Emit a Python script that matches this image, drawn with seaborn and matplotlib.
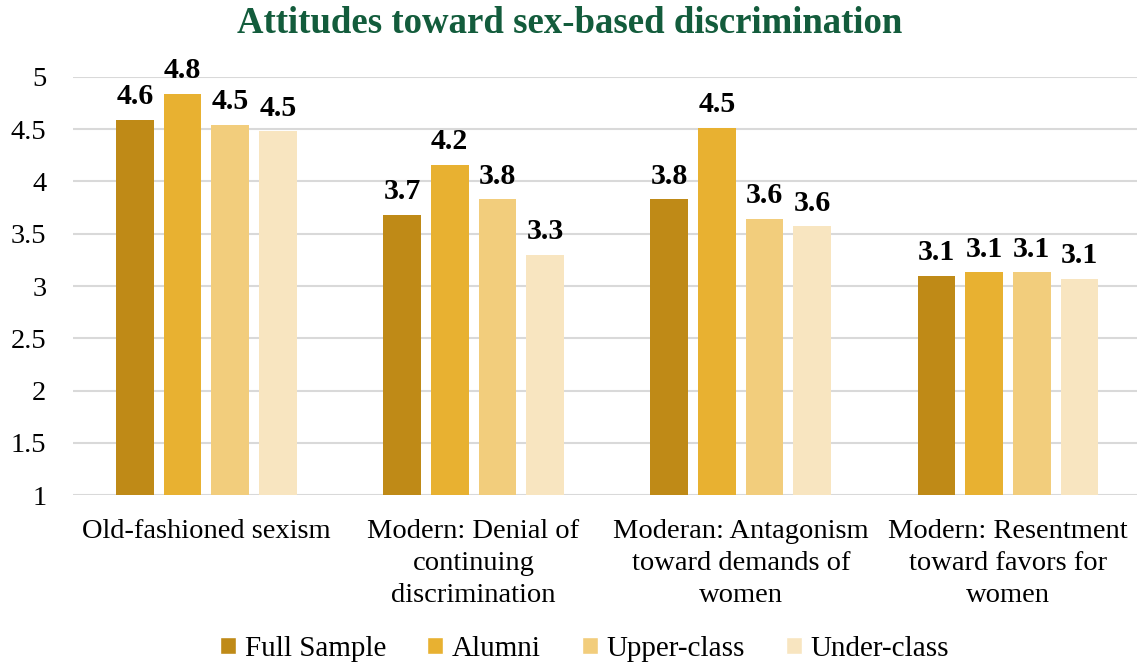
import matplotlib
matplotlib.use("Agg")
import matplotlib.pyplot as plt
import seaborn as sns
import pandas as pd
from matplotlib.patches import Patch

categories = ["Old-fashioned sexism",
              "Modern: Denial of\ncontinuing\ndiscrimination",
              "Moderan: Antagonism\ntoward demands of\nwomen",
              "Modern: Resentment\ntoward favors for\nwomen"]
series = ["Full Sample", "Alumni", "Upper-class", "Under-class"]
full_sample = [4.59, 3.68, 3.83, 3.10]
alumni = [4.84, 4.16, 4.51, 3.13]
upper_class = [4.54, 3.83, 3.64, 3.13]
under_class = [4.48, 3.30, 3.57, 3.07]
colors = ["#BF8A17", "#E8B131", "#F2CD7C", "#F8E5C0"]
yticks = [1, 1.5, 2, 2.5, 3, 3.5, 4, 4.5, 5]
ytick_labels = ["1", "1.5", "2", "2.5", "3", "3.5", "4", "4.5", "5"]

rows = []
for s, vals in zip(series, [full_sample, alumni, upper_class, under_class]):
    for c, v in zip(categories, vals):
        rows.append({"category": c, "series": s, "value": v})
df = pd.DataFrame(rows)

sns.set_theme(style="white")
plt.rcParams["font.family"] = ["Liberation Serif", "DejaVu Serif"]
plt.rcParams["text.color"] = "black"
plt.rcParams["xtick.color"] = "black"
plt.rcParams["ytick.color"] = "black"

fig = plt.figure(figsize=(11.37, 6.63), dpi=100)
ax = fig.add_axes([0.064, 0.253, 0.94, 0.631])
sns.barplot(data=df, x="category", y="value", hue="series", order=categories,
            hue_order=series, palette=colors, width=0.714, gap=0.21,
            saturation=1, ax=ax, legend=False, edgecolor="none")
ax.set_ylim(1, 5)
ax.set_yticks(yticks)
ax.set_yticklabels(ytick_labels, fontsize=20.5)
ax.yaxis.grid(True, color="#D9D9D9", linewidth=1.5)
ax.set_axisbelow(True)
for sp in ax.spines.values():
    sp.set_visible(False)
ax.tick_params(axis="x", labelsize=20.5, length=0, pad=17)
ax.tick_params(axis="y", length=0, pad=19)
for lbl in ax.get_xticklabels():
    lbl.set_linespacing(1.36)
ax.set_xlabel("")
ax.set_ylabel("")

for cont in ax.containers:
    ax.bar_label(cont, fmt="%.1f", fontsize=21.5, fontweight="bold", padding=7)

fig.text(0.501, 0.964, "Attitudes toward sex-based discrimination", fontsize=26.5,
         fontweight="bold", color="#135C3C", ha="center", va="center")

handles = [Patch(facecolor=c, label=s) for c, s in zip(colors, series)]
fig.legend(handles=handles, loc="lower center", ncol=4, frameon=False,
           fontsize=21, bbox_to_anchor=(0.514, -0.038), handlelength=0.55,
           handleheight=0.55, handletextpad=0.3, columnspacing=1.4)

fig.savefig("out.png", dpi=100)
